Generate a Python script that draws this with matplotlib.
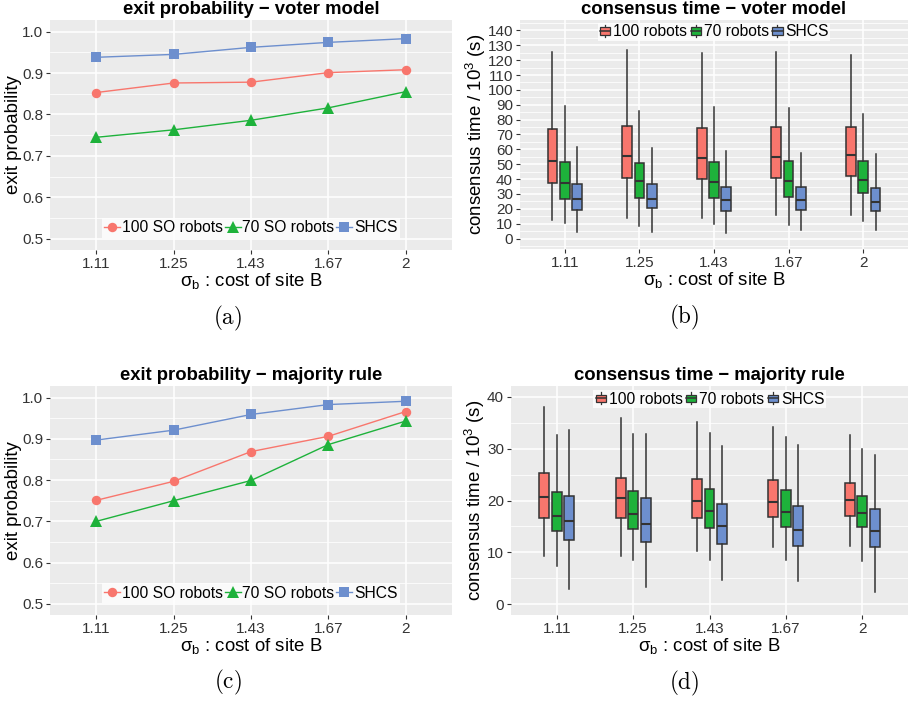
import matplotlib
matplotlib.use("Agg")
import matplotlib.pyplot as plt
import matplotlib.patches as mpatches
from matplotlib.lines import Line2D
from matplotlib.legend_handler import HandlerBase
from matplotlib.ticker import MultipleLocator, FixedLocator

plt.rcParams['font.family'] = ['Liberation Sans', 'DejaVu Sans']
plt.rcParams['mathtext.fontset'] = 'custom'
plt.rcParams['mathtext.rm'] = 'Liberation Sans'
plt.rcParams['mathtext.it'] = 'Liberation Sans:italic'
plt.rcParams['mathtext.bf'] = 'Liberation Sans:bold'

# ---------------- data ----------------
costs = ["1.11", "1.25", "1.43", "1.67", "2"]
line_series = ["100 SO robots", "70 SO robots", "SHCS"]
box_series = ["100 robots", "70 robots", "SHCS"]

# exit probability - voter model
vm_exit_100 = [0.853, 0.876, 0.878, 0.901, 0.908]
vm_exit_70 = [0.745, 0.763, 0.786, 0.816, 0.855]
vm_exit_shcs = [0.938, 0.945, 0.962, 0.974, 0.983]

# exit probability - majority rule
mr_exit_100 = [0.751, 0.797, 0.869, 0.906, 0.966]
mr_exit_70 = [0.700, 0.750, 0.799, 0.886, 0.943]
mr_exit_shcs = [0.897, 0.921, 0.959, 0.983, 0.991]

# consensus time boxes: [whisker low, Q1, median, Q3, whisker high] (x 10^3 s)
vm_time_100 = [[12.5, 37.6, 51.9, 73.4, 125.5], [14.1, 40.7, 55.5, 75.4, 127.0],
               [14.1, 40.3, 54.1, 74.3, 124.8], [16.1, 40.9, 54.6, 74.9, 125.5],
               [15.9, 41.8, 55.9, 74.9, 123.7]]
vm_time_70 = [[10.7, 26.8, 37.1, 51.4, 89.0], [8.5, 27.3, 38.7, 50.8, 86.1],
              [10.0, 27.5, 38.0, 51.7, 88.6], [9.4, 28.2, 38.5, 52.1, 87.9],
              [12.1, 30.4, 39.1, 52.1, 83.9]]
vm_time_shcs = [[4.7, 19.5, 26.8, 36.9, 61.3], [4.7, 20.4, 26.4, 36.9, 61.0],
                [4.0, 18.8, 25.9, 34.9, 58.6], [5.8, 19.2, 26.2, 34.7, 57.5],
                [6.0, 18.3, 24.8, 34.0, 57.0]]

mr_time_100 = [[9.2, 16.7, 20.6, 25.3, 38.0], [9.2, 16.6, 20.4, 24.4, 36.0],
               [10.2, 16.7, 20.0, 24.2, 35.2], [11.0, 16.9, 19.8, 24.0, 34.1],
               [11.3, 17.0, 20.1, 23.3, 32.6]]
mr_time_70 = [[7.3, 14.2, 17.1, 21.7, 32.7], [8.6, 14.5, 17.3, 21.9, 32.8],
              [8.6, 14.7, 18.0, 22.2, 33.1], [8.6, 14.9, 17.8, 22.0, 32.3],
              [8.4, 14.8, 17.5, 20.9, 29.9]]
mr_time_shcs = [[2.9, 12.4, 16.1, 20.9, 33.7], [3.4, 12.0, 15.5, 20.5, 32.9],
                [4.6, 11.7, 15.1, 19.3, 30.6], [4.4, 11.2, 14.4, 19.0, 30.7],
                [2.4, 11.0, 14.2, 18.3, 28.8]]

colors = ['#F8766D', '#1EB23B', '#6D8FCE']
markers = ['o', '^', 's']
EDGE = '#333333'
W, H = 912, 701
XLABEL = 'σ$_\\mathrm{b}$ : cost of site B'

fig = plt.figure(figsize=(W / 100, H / 100), dpi=100)
renderer = fig.canvas.get_renderer()


def fit_size(s, target_px, **kw):
    t = fig.text(0, 0, s, fontsize=20, **kw)
    w = t.get_window_extent(renderer).width
    t.remove()
    return 20 * target_px / w


TITLE_FS = fit_size('exit probability − voter model', 258, fontweight='bold')
LAB_FS = fit_size(XLABEL, 142)
TICK_FS = fit_size('1.11', 28.7)
LEG_FS = fit_size('100 SO robots', 101)
CAP_FS = fit_size(r'$\mathrm{(a)}$', 29, math_fontfamily='cm')


def add_ax(x0, y0, x1, y1):
    return fig.add_axes([x0 / W, 1 - y1 / H, (x1 - x0) / W, (y1 - y0) / H])


def style(ax, title, ylabel, ylim, major, minor):
    ax.set_facecolor('#EBEBEB')
    for s in ax.spines.values():
        s.set_visible(False)
    ax.set_xlim(0.4, 5.6)
    ax.set_ylim(*ylim)
    ax.xaxis.set_major_locator(FixedLocator(range(1, 6)))
    ax.set_xticklabels(costs)
    ax.yaxis.set_major_locator(MultipleLocator(major))
    ax.yaxis.set_minor_locator(MultipleLocator(minor))
    ax.grid(True, which='major', color='white', linewidth=1.1)
    ax.grid(True, which='minor', axis='y', color='white', linewidth=0.55)
    ax.set_axisbelow(True)
    ax.tick_params(which='major', length=3, width=0.8, color=EDGE,
                   labelsize=TICK_FS, labelcolor='#333333', pad=2)
    ax.tick_params(which='minor', length=0)
    ax.set_title(title, fontsize=TITLE_FS, fontweight='bold', pad=4)
    ax.set_xlabel(XLABEL, fontsize=LAB_FS, labelpad=0)
    ax.set_ylabel(ylabel, fontsize=LAB_FS, labelpad=0)


def line_panel(ax, series, title):
    style(ax, title, 'exit probability', (0.473, 1.028), 0.1, 0.05)
    ax.yaxis.set_major_formatter(matplotlib.ticker.FormatStrFormatter('%.1f'))
    x = list(range(1, 6))
    handles = []
    for vals, c, m, lab in zip(series, colors, markers, line_series):
        ms = 8 if m == '^' else 6.8
        h, = ax.plot(x, vals, color=c, linewidth=1.0, marker=m, markersize=ms,
                     markeredgewidth=0, label=lab, zorder=3)
        handles.append(h)
    leg = ax.legend(handles=handles, loc='center', bbox_to_anchor=(0.5, 0.096),
                    ncol=3, frameon=True, fontsize=LEG_FS, handlelength=1.0,
                    handletextpad=0.12, columnspacing=0.12, borderpad=0.15,
                    fancybox=False, borderaxespad=0)
    leg.get_frame().set_linewidth(0)
    leg.get_frame().set_facecolor('white')


class BoxHandler(HandlerBase):
    def create_artists(self, legend, orig_handle, xdescent, ydescent, width,
                       height, fontsize, trans):
        fc = orig_handle.get_facecolor()
        bw = width * 0.8
        bh = height * 0.6
        x0 = -xdescent + (width - bw) / 2
        y0 = -ydescent + (height - bh) / 2
        cx = -xdescent + width / 2
        whisk = Line2D([cx, cx], [-ydescent, -ydescent + height], color=EDGE,
                       linewidth=0.9, transform=trans)
        rect = mpatches.Rectangle((x0, y0), bw, bh, facecolor=fc, edgecolor=EDGE,
                                  linewidth=0.9, transform=trans)
        med = Line2D([x0, x0 + bw], [y0 + bh / 2] * 2, color=EDGE, linewidth=1.1,
                     transform=trans)
        return [whisk, rect, med]


def box_panel(ax, series, title, ylim, major, minor):
    style(ax, title, 'consensus time / 10$^3$ (s)', ylim, major, minor)
    offsets = [-0.165, 0.0, 0.165]
    for data, c, off in zip(series, colors, offsets):
        stats = []
        for d in data:
            stats.append(dict(whislo=d[0], q1=d[1], med=d[2], q3=d[3], whishi=d[4],
                              fliers=[]))
        pos = [i + 1 + off for i in range(len(data))]
        ax.bxp(stats, positions=pos, widths=0.13, patch_artist=True,
               showfliers=False, showcaps=False, manage_ticks=False,
               boxprops=dict(facecolor=c, edgecolor=EDGE, linewidth=1.1),
               medianprops=dict(color=EDGE, linewidth=1.5),
               whiskerprops=dict(color=EDGE, linewidth=1.1), zorder=3)
    ax.set_xticks(range(1, 6))
    ax.set_xticklabels(costs)
    ax.set_xlim(0.4, 5.6)
    handles = [mpatches.Patch(facecolor=c, label=l) for c, l in zip(colors, box_series)]
    return handles


def box_legend(ax, handles, ypos):
    leg = ax.legend(handles=handles, loc='center', bbox_to_anchor=(0.5, ypos),
                    ncol=3, frameon=True, fontsize=LEG_FS, handlelength=0.8,
                    handleheight=0.8, handletextpad=0.1, columnspacing=0.15,
                    borderpad=0.1, fancybox=False, borderaxespad=0,
                    handler_map={mpatches.Patch: BoxHandler()})
    leg.get_frame().set_linewidth(0)
    leg.get_frame().set_facecolor('white')


ax_a = add_ax(50, 20, 452, 250)
line_panel(ax_a, [vm_exit_100, vm_exit_70, vm_exit_shcs], 'exit probability − voter model')

ax_b = add_ax(520, 20, 908, 249)
hb = box_panel(ax_b, [vm_time_100, vm_time_70, vm_time_shcs], 'consensus time − voter model',
               (-7, 147), 10, 5)
box_legend(ax_b, hb, 0.948)

ax_c = add_ax(50, 386, 452, 615)
line_panel(ax_c, [mr_exit_100, mr_exit_70, mr_exit_shcs], 'exit probability − majority rule')

ax_d = add_ax(511, 386, 908, 615)
hd = box_panel(ax_d, [mr_time_100, mr_time_70, mr_time_shcs], 'consensus time − majority rule',
               (-2.1, 42.1), 10, 5)
box_legend(ax_d, hd, 0.943)

for lab, x, y in [('(a)', 228, 318), ('(b)', 684, 317), ('(c)', 228, 682), ('(d)', 684, 683)]:
    fig.text(x / W, 1 - y / H, r'$\mathrm{' + lab + '}$', math_fontfamily='cm',
             fontsize=CAP_FS, ha='center', va='center')

fig.savefig('out.png', dpi=100)
